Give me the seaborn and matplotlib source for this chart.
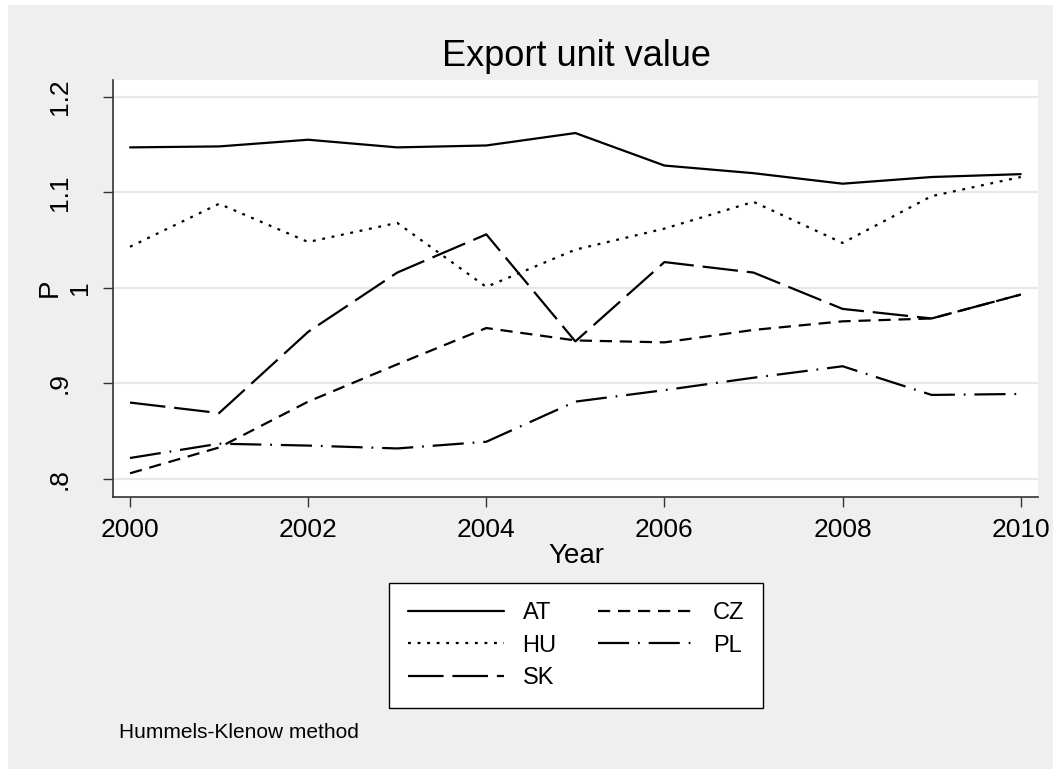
import pandas as pd
import matplotlib
matplotlib.use("Agg")
import matplotlib.pyplot as plt
import matplotlib.transforms as mtrans
import seaborn as sns
from matplotlib.patches import Rectangle

# data
years = [2000, 2001, 2002, 2003, 2004, 2005, 2006, 2007, 2008, 2009, 2010]
at = [1.147, 1.148, 1.155, 1.147, 1.149, 1.162, 1.128, 1.120, 1.109, 1.116, 1.119]
hu = [1.043, 1.088, 1.048, 1.068, 1.001, 1.040, 1.062, 1.090, 1.047, 1.096, 1.116]
sk = [0.880, 0.869, 0.954, 1.016, 1.056, 0.944, 1.027, 1.016, 0.978, 0.968, 0.993]
cz = [0.806, 0.833, 0.881, 0.920, 0.958, 0.945, 0.943, 0.956, 0.965, 0.968, 0.993]
pl = [0.822, 0.837, 0.835, 0.832, 0.839, 0.881, 0.893, 0.906, 0.918, 0.888, 0.889]
countries = ["AT", "HU", "SK", "CZ", "PL"]
yticks = [0.8, 0.9, 1.0, 1.1, 1.2]
ytick_labels = [".8", ".9", "1", "1.1", "1.2"]
xticks = [2000, 2002, 2004, 2006, 2008, 2010]

df = pd.DataFrame({"Year": years * 5,
                   "P": at + hu + sk + cz + pl,
                   "country": [c for c in countries for _ in years]})

sns.set_style("white")
plt.rcParams["font.family"] = ["Liberation Sans", "DejaVu Sans"]
plt.rcParams["text.color"] = "black"

W, H = 1053, 769
fig = plt.figure(figsize=(W / 100, H / 100), dpi=100)
fig.patch.set_facecolor("white")
# grey graph region (thin white margin on the top and left like the source)
fig.patches.append(Rectangle((8 / W, 0), 1, 1 - 5 / H, transform=fig.transFigure,
                             facecolor="#efefef", edgecolor="none", zorder=-10))

ax = fig.add_axes([113 / W, 1 - 497 / H, (1038 - 113) / W, (497 - 80) / H])
ax.set_facecolor("white")

dash_map = {"AT": "", "HU": (1.3, 3.0), "SK": (16, 4), "CZ": (5.5, 3.5), "PL": (14, 4, 0.8, 4)}
sns.lineplot(data=df, x="Year", y="P", hue="country", style="country",
             hue_order=countries, style_order=countries,
             palette=["black"] * 5, dashes=dash_map, linewidth=1.6, ax=ax)

ax.set_xlim(1999.809, 2010.194)
ax.set_ylim(0.7812, 1.2175)
ax.set_xticks(xticks)
ax.set_yticks(yticks)
ax.set_yticklabels(ytick_labels, rotation=90, va="center")
ax.yaxis.grid(True, color="#e8e8e8", linewidth=1.6)
ax.xaxis.grid(False)
ax.set_axisbelow(True)
ax.tick_params(axis="both", direction="out", length=7.2, width=1, color="#333333",
               labelcolor="black", labelsize=19, left=True, bottom=True)
ax.tick_params(axis="y", pad=22.5)
ax.tick_params(axis="x", pad=8)
# the "1" label sits further right in the source
for lab in ax.get_yticklabels():
    if lab.get_text() == "1":
        lab.set_transform(lab.get_transform() +
                          mtrans.ScaledTranslation(20 / 100, 0, fig.dpi_scale_trans))
for s in ["top", "right"]:
    ax.spines[s].set_visible(False)
for s in ["left", "bottom"]:
    ax.spines[s].set_color("#333333")
    ax.spines[s].set_linewidth(1.2)
ax.set_xlabel("")
ax.set_ylabel("")

fig.text(576 / W, 1 - 66 / H, "Export unit value", ha="center", va="baseline", fontsize=26)
fig.text(576 / W, 1 - 563 / H, "Year", ha="center", va="baseline", fontsize=20)
fig.text(50 / W, 1 - 288 / H, "P", ha="center", va="center", rotation=90, fontsize=20)
fig.text(119 / W, 1 - 738 / H, "Hummels-Klenow method", ha="left", va="baseline", fontsize=15)

handles, labels = ax.get_legend_handles_labels()
ax.get_legend().remove()
leg = fig.legend(handles, labels, loc="upper center", bbox_to_anchor=(576 / W, 1 - 583 / H),
                 borderaxespad=0, ncol=2, fontsize=17, frameon=True, fancybox=False,
                 framealpha=1, edgecolor="black", handlelength=4.07, labelspacing=0.45,
                 columnspacing=1.75, borderpad=0.8, handletextpad=0.8)
leg.get_frame().set_linewidth(1.0)

fig.savefig("out.png", dpi=100)
